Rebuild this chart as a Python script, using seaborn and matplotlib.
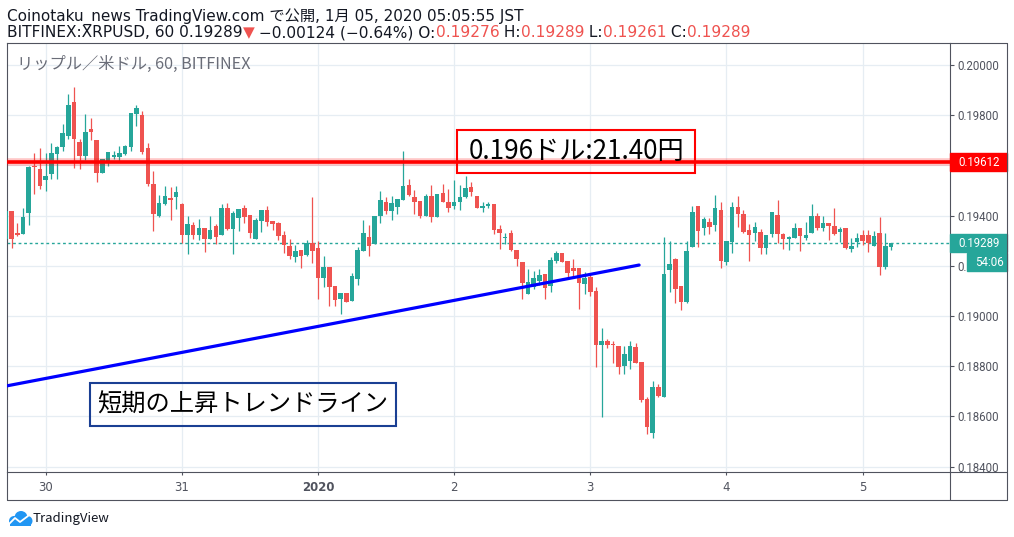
import numpy as np
import pandas as pd
import matplotlib
matplotlib.use("Agg")
import matplotlib.pyplot as plt
import matplotlib.patches as mpatches
from matplotlib.lines import Line2D
import seaborn as sns

sns.set_theme(style="white")
plt.rcParams['font.family'] = ['Noto Sans CJK JP', 'DejaVu Sans']

W, H = 1014, 537
UP, DOWN = '#26a69a', '#ef5350'
INK = '#131722'
AXIS = '#50535e'
GRID = '#e6edf3'
HEAD_FONT = ['DejaVu Sans', 'Noto Sans CJK JP']

# XRPUSD 1h candles on Bitfinex, first bar 2019-12-29 17:00 JST
start_time = '2019-12-29 17:00'
opens = [
    0.19308, 0.19418, 0.19331, 0.19328, 0.19412, 0.19597, 0.19585, 0.19543, 0.19567, 0.19647,
    0.19674, 0.19718, 0.19852, 0.19693, 0.19639, 0.19745, 0.19701, 0.19571, 0.19616, 0.19633,
    0.19633, 0.19645, 0.19674, 0.19806, 0.19801, 0.19669, 0.19526, 0.19400, 0.19447, 0.19470,
    0.19475, 0.19446, 0.19324, 0.19363, 0.19324, 0.19351, 0.19308, 0.19359, 0.19324, 0.19430,
    0.19347, 0.19392, 0.19430, 0.19402, 0.19308, 0.19379, 0.19422, 0.19379, 0.19371, 0.19323,
    0.19280, 0.19236, 0.19264, 0.19244, 0.19291, 0.19271, 0.19153, 0.19195, 0.19120, 0.19069,
    0.19092, 0.19058, 0.19146, 0.19260, 0.19315, 0.19285, 0.19398, 0.19454, 0.19420, 0.19436,
    0.19462, 0.19522, 0.19474, 0.19458, 0.19398, 0.19478, 0.19396, 0.19490, 0.19454, 0.19440,
    0.19454, 0.19474, 0.19514, 0.19478, 0.19432, 0.19440, 0.19446, 0.19348, 0.19309, 0.19329,
    0.19263, 0.19215, 0.19089, 0.19116, 0.19140, 0.19167, 0.19120, 0.19220, 0.19250, 0.19219,
    0.19191, 0.19191, 0.19129, 0.19155, 0.19100, 0.18885, 0.18901, 0.18889, 0.18881, 0.18801,
    0.18821, 0.18877, 0.18817, 0.18671, 0.18535, 0.18719, 0.18679, 0.19183, 0.19227, 0.19120,
    0.19057, 0.19276, 0.19438, 0.19352, 0.19374, 0.19363, 0.19422, 0.19215, 0.19295, 0.19434,
    0.19406, 0.19343, 0.19331, 0.19335, 0.19271, 0.19327, 0.19402, 0.19327, 0.19307, 0.19311,
    0.19351, 0.19311, 0.19331, 0.19398, 0.19351, 0.19370, 0.19359, 0.19335, 0.19351, 0.19267,
    0.19295, 0.19323, 0.19323, 0.19279, 0.19331, 0.19195, 0.19276,
]
highs = [
    0.19420, 0.19418, 0.19369, 0.19430, 0.19597, 0.19649, 0.19668, 0.19649, 0.19689, 0.19677,
    0.19765, 0.19884, 0.19912, 0.19705, 0.19805, 0.19789, 0.19701, 0.19625, 0.19653, 0.19657,
    0.19677, 0.19681, 0.19809, 0.19840, 0.19817, 0.19689, 0.19578, 0.19481, 0.19518, 0.19514,
    0.19518, 0.19449, 0.19398, 0.19375, 0.19386, 0.19351, 0.19398, 0.19367, 0.19446, 0.19450,
    0.19418, 0.19426, 0.19442, 0.19402, 0.19391, 0.19422, 0.19438, 0.19379, 0.19375, 0.19339,
    0.19307, 0.19284, 0.19264, 0.19303, 0.19475, 0.19299, 0.19239, 0.19195, 0.19120, 0.19092,
    0.19092, 0.19173, 0.19274, 0.19382, 0.19361, 0.19398, 0.19498, 0.19474, 0.19478, 0.19466,
    0.19657, 0.19546, 0.19502, 0.19458, 0.19486, 0.19522, 0.19486, 0.19527, 0.19507, 0.19542,
    0.19522, 0.19558, 0.19534, 0.19478, 0.19454, 0.19454, 0.19446, 0.19364, 0.19332, 0.19341,
    0.19263, 0.19215, 0.19187, 0.19179, 0.19187, 0.19167, 0.19235, 0.19259, 0.19250, 0.19219,
    0.19227, 0.19191, 0.19175, 0.19171, 0.19116, 0.18952, 0.18908, 0.18901, 0.18881, 0.18881,
    0.18901, 0.18893, 0.18817, 0.18679, 0.18742, 0.18731, 0.19315, 0.19300, 0.19231, 0.19120,
    0.19299, 0.19438, 0.19438, 0.19394, 0.19390, 0.19482, 0.19454, 0.19299, 0.19454, 0.19478,
    0.19422, 0.19367, 0.19374, 0.19347, 0.19323, 0.19414, 0.19462, 0.19331, 0.19319, 0.19370,
    0.19351, 0.19374, 0.19446, 0.19410, 0.19398, 0.19370, 0.19430, 0.19355, 0.19351, 0.19311,
    0.19331, 0.19343, 0.19343, 0.19339, 0.19394, 0.19331, 0.19289,
]
lows = [
    0.19305, 0.19270, 0.19320, 0.19328, 0.19362, 0.19487, 0.19507, 0.19499, 0.19547, 0.19547,
    0.19659, 0.19706, 0.19591, 0.19585, 0.19623, 0.19701, 0.19535, 0.19571, 0.19597, 0.19625,
    0.19617, 0.19641, 0.19657, 0.19758, 0.19647, 0.19519, 0.19340, 0.19396, 0.19443, 0.19384,
    0.19427, 0.19290, 0.19248, 0.19307, 0.19304, 0.19256, 0.19308, 0.19288, 0.19324, 0.19343,
    0.19248, 0.19340, 0.19372, 0.19312, 0.19308, 0.19335, 0.19359, 0.19343, 0.19304, 0.19252,
    0.19228, 0.19217, 0.19193, 0.19240, 0.19212, 0.19069, 0.19117, 0.19041, 0.19041, 0.19009,
    0.19057, 0.19058, 0.19122, 0.19260, 0.19240, 0.19285, 0.19372, 0.19406, 0.19384, 0.19406,
    0.19462, 0.19478, 0.19406, 0.19390, 0.19398, 0.19376, 0.19396, 0.19454, 0.19416, 0.19428,
    0.19424, 0.19470, 0.19478, 0.19432, 0.19416, 0.19432, 0.19328, 0.19268, 0.19288, 0.19260,
    0.19200, 0.19069, 0.19089, 0.19108, 0.19124, 0.19068, 0.19096, 0.19212, 0.19216, 0.19157,
    0.19153, 0.19029, 0.19089, 0.19081, 0.18797, 0.18599, 0.18873, 0.18813, 0.18770, 0.18770,
    0.18790, 0.18813, 0.18659, 0.18531, 0.18515, 0.18679, 0.18679, 0.19097, 0.19053, 0.19025,
    0.19053, 0.19276, 0.19276, 0.19324, 0.19327, 0.19339, 0.19191, 0.19203, 0.19251, 0.19355,
    0.19331, 0.19219, 0.19299, 0.19247, 0.19247, 0.19315, 0.19291, 0.19267, 0.19263, 0.19311,
    0.19259, 0.19303, 0.19331, 0.19343, 0.19339, 0.19303, 0.19323, 0.19295, 0.19267, 0.19255,
    0.19275, 0.19283, 0.19255, 0.19279, 0.19163, 0.19187, 0.19261,
]
closes = [
    0.19418, 0.19308, 0.19323, 0.19394, 0.19594, 0.19595, 0.19519, 0.19556, 0.19649, 0.19673,
    0.19729, 0.19840, 0.19706, 0.19639, 0.19733, 0.19734, 0.19571, 0.19625, 0.19653, 0.19641,
    0.19649, 0.19677, 0.19809, 0.19828, 0.19655, 0.19526, 0.19408, 0.19450, 0.19478, 0.19463,
    0.19494, 0.19324, 0.19367, 0.19324, 0.19351, 0.19308, 0.19343, 0.19316, 0.19430, 0.19347,
    0.19410, 0.19426, 0.19395, 0.19332, 0.19383, 0.19422, 0.19375, 0.19367, 0.19320, 0.19284,
    0.19240, 0.19260, 0.19240, 0.19291, 0.19260, 0.19153, 0.19195, 0.19117, 0.19065, 0.19092,
    0.19057, 0.19159, 0.19263, 0.19331, 0.19280, 0.19398, 0.19462, 0.19420, 0.19450, 0.19466,
    0.19518, 0.19482, 0.19454, 0.19398, 0.19478, 0.19396, 0.19486, 0.19454, 0.19432, 0.19454,
    0.19474, 0.19510, 0.19494, 0.19432, 0.19438, 0.19446, 0.19344, 0.19332, 0.19313, 0.19263,
    0.19228, 0.19133, 0.19135, 0.19151, 0.19163, 0.19112, 0.19223, 0.19250, 0.19216, 0.19173,
    0.19181, 0.19133, 0.19151, 0.19097, 0.18885, 0.18901, 0.18885, 0.18885, 0.18797, 0.18849,
    0.18881, 0.18813, 0.18667, 0.18559, 0.18719, 0.18683, 0.19167, 0.19207, 0.19109, 0.19057,
    0.19259, 0.19414, 0.19339, 0.19386, 0.19355, 0.19430, 0.19219, 0.19299, 0.19434, 0.19406,
    0.19335, 0.19323, 0.19355, 0.19271, 0.19323, 0.19414, 0.19327, 0.19307, 0.19315, 0.19351,
    0.19319, 0.19323, 0.19398, 0.19351, 0.19370, 0.19359, 0.19327, 0.19347, 0.19271, 0.19279,
    0.19311, 0.19299, 0.19291, 0.19319, 0.19195, 0.19279, 0.19289,
]

day_labels = ['30', '31', '2020', '2', '3', '4', '5']
price_ticks = [0.184, 0.186, 0.188, 0.190, 0.192, 0.194, 0.196, 0.198, 0.200]
resistance = 0.19612
last_price = 0.19289
countdown = '54:06'
trend_times = ['2019-12-29 17:00', '2020-01-03 08:36']
trend_prices = [0.18721, 0.19203]


def px(x, y):
    return x / W, 1 - y / H


def fig_line(fig, x0, y0, x1, y1):
    (a, b), (c, d) = px(x0, y0), px(x1, y1)
    fig.add_artist(Line2D([a, c], [b, d], transform=fig.transFigure, color=AXIS, lw=0.8))


def main():
    df = pd.DataFrame({'open': opens, 'high': highs, 'low': lows, 'close': closes})
    df['time'] = pd.date_range(start_time, periods=len(df), freq='h')
    df['x'] = np.arange(len(df))
    t0 = df['time'].iloc[0]

    fig = plt.figure(figsize=(W / 100, H / 100), dpi=100)
    fig.patch.set_facecolor('white')
    ax = fig.add_axes([7 / W, (H - 472) / H, 943 / W, 429 / H])
    ax.set_facecolor('white')

    # candles
    up = df['close'] >= df['open']
    colors = np.where(up, UP, DOWN)
    ax.vlines(df['x'], df['low'], df['high'], colors=colors, lw=0.9, zorder=3)
    body_lo = df[['open', 'close']].min(axis=1)
    body_h = (df['close'] - df['open']).abs().clip(lower=0.00004)
    ax.bar(df['x'], body_h, bottom=body_lo, width=0.8, color=colors, lw=0, zorder=4)

    ax.set_xlim(0.18, 166.4)
    ax.set_ylim(0.183785, 0.200876)

    # day ticks + grid
    day_idx = df.index[df['time'].dt.hour == 0].tolist()
    ax.set_xticks(day_idx)
    ax.set_xticklabels(day_labels)
    for lab in ax.get_xticklabels():
        lab.set_family(['DejaVu Sans'])
        if lab.get_text() == '2020':
            lab.set_fontweight('bold')
    ax.yaxis.tick_right()
    ax.set_yticks(price_ticks)
    # the 0.19600 label sits fully under the resistance price box
    ax.set_yticklabels(['' if abs(p - resistance) < 0.0005 else f'{p:.5f}' for p in price_ticks])
    for lab in ax.get_yticklabels():
        lab.set_family(['Roboto'])
    ax.tick_params(axis='x', bottom=True, length=2.5, width=0.8, color=AXIS,
                   labelsize=8.5, labelcolor=AXIS, pad=4)
    ax.tick_params(axis='y', right=True, left=False, length=2.9, width=0.8, color=AXIS,
                   labelsize=8.3, labelcolor=AXIS, pad=2.5)
    ax.grid(True, color=GRID, lw=0.9, zorder=0)
    ax.set_axisbelow(True)
    for s in ax.spines.values():
        s.set_color(AXIS)
        s.set_linewidth(0.8)

    # outer frames of price / time panels
    fig_line(fig, 950, 43, 1007, 43)
    fig_line(fig, 1007, 43, 1007, 500)
    fig_line(fig, 7, 500, 1007, 500)
    fig_line(fig, 7, 472, 7, 500)
    fig_line(fig, 950, 472, 950, 500)
    fig_line(fig, 950, 472, 1007, 472)

    # last price dotted line
    ax.axhline(last_price, color=UP, lw=1.0, ls=(0, (2, 2)), zorder=2)

    # resistance line
    ax.axhline(resistance, color='#ff0000', lw=5.5, alpha=0.22, zorder=5)
    ax.axhline(resistance, color='#ff0000', lw=2.6, zorder=5)

    # short-term trend line
    tx = [(pd.Timestamp(t) - t0) / pd.Timedelta(hours=1) for t in trend_times]
    sns.lineplot(x=tx, y=trend_prices, color='#0000ff', lw=2.3, ax=ax, zorder=6)

    # callout boxes
    ax.add_patch(mpatches.Rectangle((79.5, 0.19570), 41.9, 0.00171, fill=False,
                                    edgecolor='#ff0000', lw=1.5, zorder=7))
    ax.text(100.5, 0.19655, '0.196ドル:21.40円', ha='center', va='center',
            fontsize=18.8, color='black', zorder=8)
    ax.add_patch(mpatches.Rectangle((14.8, 0.18562), 53.9, 0.00171, fill=False,
                                    edgecolor='#1a3f93', lw=1.5, zorder=7))
    ax.text(41.8, 0.18647, '短期の上昇トレンドライン', ha='center', va='center',
            fontsize=17.5, color='black', zorder=8)

    # pane title
    ax.text(10 / 943, 1 - 26 / 429, 'リップル／米ドル, 60, BITFINEX', transform=ax.transAxes,
            ha='left', va='baseline', fontsize=11.7, color='#6a6d78')

    # price axis labels (boxes)
    ytr = ax.get_yaxis_transform()
    half = 0.00036
    for price, text, x0, w, color in [
        (resistance, f'{resistance:.5f}', 1.0, 0.0604, '#ff0000'),
        (last_price, f'{last_price:.5f}', 1.0, 0.0604, UP),
        (0.19215, countdown, 1.018, 0.0424, UP),
    ]:
        ax.add_patch(mpatches.Rectangle((x0, price - half), w, 2 * half, transform=ytr,
                                        color=color, clip_on=False, zorder=9))
        ax.text(x0 + 0.0085, price, text, transform=ytr, ha='left', va='center',
                fontsize=8.3, family=['Roboto'], color='white', clip_on=False, zorder=10)

    # header
    renderer = fig.canvas.get_renderer()
    x, y = px(7, 21)
    fig.text(x, y, 'Coinotaku_news TradingView.com で公開, 1月 05, 2020 05:05:55 JST',
             fontsize=11, family=HEAD_FONT, color=INK, va='baseline', ha='left')
    pieces = [('BITFINEX:XRPUSD, 60 0.19289', INK), ('▼', DOWN),
              (' −0.00124 (−0.64%) O:', INK), ('0.19276', DOWN), (' H:', INK),
              ('0.19289', DOWN), (' L:', INK), ('0.19261', DOWN), (' C:', INK),
              ('0.19289', DOWN)]
    xp = 7
    for s, c in pieces:
        t = fig.text(*px(xp, 37), s, fontsize=11.05, family=HEAD_FONT, color=c,
                     va='baseline', ha='left')
        xp += t.get_window_extent(renderer).width

    # TradingView logo
    lax = fig.add_axes([7 / W, 1 - 527 / H, 26 / W, 18 / H])
    lax.set_xlim(0, 26)
    lax.set_ylim(0, 18)
    lax.axis('off')
    for cx, cy, r in [(7, 6, 5), (14, 9.5, 6.5), (20.5, 6, 5)]:
        lax.add_patch(mpatches.Circle((cx, cy), r, color='#2196f3', lw=0))
    lax.add_patch(mpatches.Rectangle((3, 1), 21, 6, color='#2196f3', lw=0))
    lax.plot([2, 8, 13, 21], [3, 9, 5, 11], color='white', lw=1.3)
    fig.text(*px(33, 522), 'TradingView', fontsize=9.5, color=INK, va='baseline', ha='left')

    fig.savefig('out.png', dpi=100)


if __name__ == '__main__':
    main()
